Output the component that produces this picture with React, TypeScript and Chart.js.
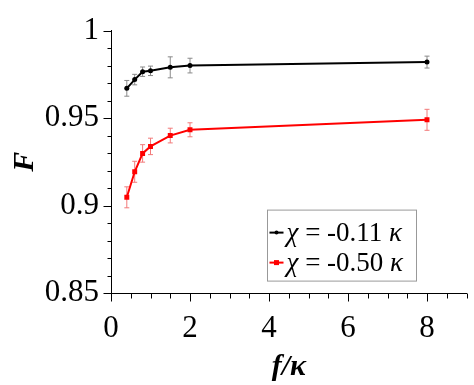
import { useEffect, useRef } from "react";
import { Chart, registerables } from "chart.js";
Chart.register(...registerables);

const fValues = [0.4, 0.6, 0.8, 1.0, 1.5, 2.0, 8.0];
const fidelityChi011 = [0.967, 0.972, 0.9765, 0.977, 0.979, 0.98, 0.982];
const errorChi011 = [0.0045, 0.003, 0.0027, 0.0027, 0.006, 0.0042, 0.0034];
const fidelityChi050 = [0.9047, 0.9193, 0.9298, 0.9338, 0.94, 0.9433, 0.949];
const errorChi050 = [0.006, 0.006, 0.005, 0.0047, 0.0042, 0.004, 0.006];
const seriesLabels = ["χ = -0.11 κ", "χ = -0.50 κ"];
const seriesColors = ["#000000", "#ff0000"];
const errorColors = ["#8a8a8a", "#f27a7a"];
const xAxisTitle = "f/κ";
const yAxisTitle = "F";

const SERIF = '"Liberation Serif", "Times New Roman", serif';

const errorBarPlugin = {
  id: "errorBars",
  beforeDatasetsDraw(chart: any) {
    const { ctx, scales } = chart;
    const x = scales.x;
    const y = scales.y;
    const errs = [errorChi011, errorChi050];
    const vals = [fidelityChi011, fidelityChi050];
    ctx.save();
    ctx.lineWidth = 1;
    errs.forEach((e, di) => {
      ctx.strokeStyle = errorColors[di];
      fValues.forEach((f, i) => {
        const px = x.getPixelForValue(f);
        const top = y.getPixelForValue(vals[di][i] + e[i]);
        const bot = y.getPixelForValue(vals[di][i] - e[i]);
        ctx.beginPath();
        ctx.moveTo(px, top);
        ctx.lineTo(px, bot);
        ctx.moveTo(px - 2.5, top);
        ctx.lineTo(px + 2.5, top);
        ctx.moveTo(px - 2.5, bot);
        ctx.lineTo(px + 2.5, bot);
        ctx.stroke();
      });
    });
    ctx.restore();
  },
};

const ticksPlugin = {
  id: "minorTicks",
  afterDraw(chart: any) {
    const { ctx, scales } = chart;
    const x = scales.x;
    const y = scales.y;
    ctx.save();
    ctx.strokeStyle = "#000";
    ctx.lineWidth = 1;
    const ax = Math.round(x.left) + 0.5;
    const ay = Math.round(y.bottom) + 0.5;
    for (let k = 0; k <= 15; k++) {
      const v = 0.85 + k * 0.01;
      const py = Math.round(y.getPixelForValue(v)) + 0.5;
      const len = k % 5 === 0 ? 8 : 4;
      ctx.beginPath();
      ctx.moveTo(ax, py);
      ctx.lineTo(ax - len, py);
      ctx.stroke();
    }
    for (let k = 0; k <= 18; k++) {
      const v = k * 0.5;
      const px = Math.round(x.getPixelForValue(v)) + 0.5;
      const len = k % 4 === 0 ? 8 : 5;
      ctx.beginPath();
      ctx.moveTo(px, ay);
      ctx.lineTo(px, ay + len);
      ctx.stroke();
    }
    ctx.restore();
  },
};

const legendPlugin = {
  id: "customLegend",
  afterDraw(chart: any) {
    const { ctx, chartArea } = chart;
    const bx = chartArea.left + 156.5;
    const by = chartArea.top + 179.5;
    const bw = 149;
    const bh = 71;
    ctx.save();
    ctx.fillStyle = "#fff";
    ctx.fillRect(bx, by, bw, bh);
    ctx.strokeStyle = "#999";
    ctx.lineWidth = 1;
    ctx.strokeRect(bx, by, bw, bh);
    seriesLabels.forEach((label, i) => {
      const baseline = by + 30.5 + i * 30;
      const cy = baseline - 8;
      ctx.strokeStyle = seriesColors[i];
      ctx.fillStyle = seriesColors[i];
      ctx.lineWidth = 2;
      ctx.beginPath();
      ctx.moveTo(bx + 2, cy);
      ctx.lineTo(bx + 16, cy);
      ctx.stroke();
      if (i === 0) {
        ctx.beginPath();
        ctx.arc(bx + 9, cy, 2, 0, Math.PI * 2);
        ctx.fill();
      } else {
        ctx.fillRect(bx + 6.5, cy - 2.5, 5, 5);
      }
      let tx = bx + 19;
      ctx.fillStyle = "#000";
      ctx.textBaseline = "alphabetic";
      try {
        (ctx as any).wordSpacing = "2.5px";
      } catch (e) {}
      let buf = "";
      let bufItalic = false;
      const flush = () => {
        if (!buf) return;
        ctx.font = `${bufItalic ? "italic " : ""}27px ${SERIF}`;
        ctx.fillText(buf, tx, baseline);
        tx += ctx.measureText(buf).width;
        buf = "";
      };
      for (const ch of label) {
        const it = /[\u0370-\u03ff]/.test(ch);
        if (it !== bufItalic) {
          flush();
          bufItalic = it;
        }
        buf += ch;
      }
      flush();
    });
    ctx.restore();
  },
};

export default function App() {
  const ref = useRef<HTMLCanvasElement>(null);
  useEffect(() => {
    if (!ref.current) return;
    const chart = new Chart(ref.current, {
      type: "line",
      data: {
        datasets: [
          {
            label: seriesLabels[0],
            data: fValues.map((f, i) => ({ x: f, y: fidelityChi011[i] })),
            borderColor: seriesColors[0],
            backgroundColor: seriesColors[0],
            borderWidth: 2,
            pointRadius: 2.5,
            pointStyle: "circle",
            pointBorderWidth: 0,
            tension: 0,
          },
          {
            label: seriesLabels[1],
            data: fValues.map((f, i) => ({ x: f, y: fidelityChi050[i] })),
            borderColor: seriesColors[1],
            backgroundColor: seriesColors[1],
            borderWidth: 2,
            pointRadius: 3.5,
            pointStyle: "rect",
            pointBorderWidth: 0,
            tension: 0,
          },
        ],
      },
      options: {
        animation: false,
        responsive: false,
        devicePixelRatio: 1,
        layout: { padding: { top: 19.5, right: 7.5, left: 0, bottom: 0 } },
        plugins: { legend: { display: false }, tooltip: { enabled: false } },
        scales: {
          x: {
            type: "linear",
            min: 0,
            max: 9,
            afterFit: (s: any) => {
              s.height = 92;
            },
            grid: { display: false, drawTicks: false },
            border: { display: true, color: "#000", width: 1 },
            ticks: {
              stepSize: 2,
              includeBounds: false,
              padding: 17,
              color: "#000",
              font: { family: SERIF, size: 31 },
              maxRotation: 0,
            },
            title: {
              display: true,
              text: xAxisTitle,
              color: "#000",
              font: { family: SERIF, size: 30, style: "italic", weight: "bold", lineHeight: 1.2 },
              padding: { top: 0, bottom: 0 },
            },
          },
          y: {
            type: "linear",
            min: 0.85,
            max: 1,
            afterFit: (s: any) => {
              s.width = 111;
            },
            grid: { display: false, drawTicks: false },
            border: { display: true, color: "#000", width: 1 },
            ticks: {
              stepSize: 0.05,
              padding: 12,
              color: "#000",
              font: { family: SERIF, size: 31 },
              callback: (v: any) => String(+Number(v).toFixed(2)),
            },
            title: {
              display: true,
              text: yAxisTitle,
              color: "#000",
              font: { family: SERIF, size: 30, style: "italic", weight: "bold", lineHeight: 1.2 },
              padding: { top: 7, bottom: 0 },
            },
          },
        },
      },
      plugins: [errorBarPlugin, ticksPlugin, legendPlugin],
    } as any);
    return () => chart.destroy();
  }, []);
  return (
    <div style={{ position: "absolute", left: 0, top: 0, width: 474, height: 385, background: "#fff" }}>
      <canvas ref={ref} width={474} height={385} />
    </div>
  );
}
